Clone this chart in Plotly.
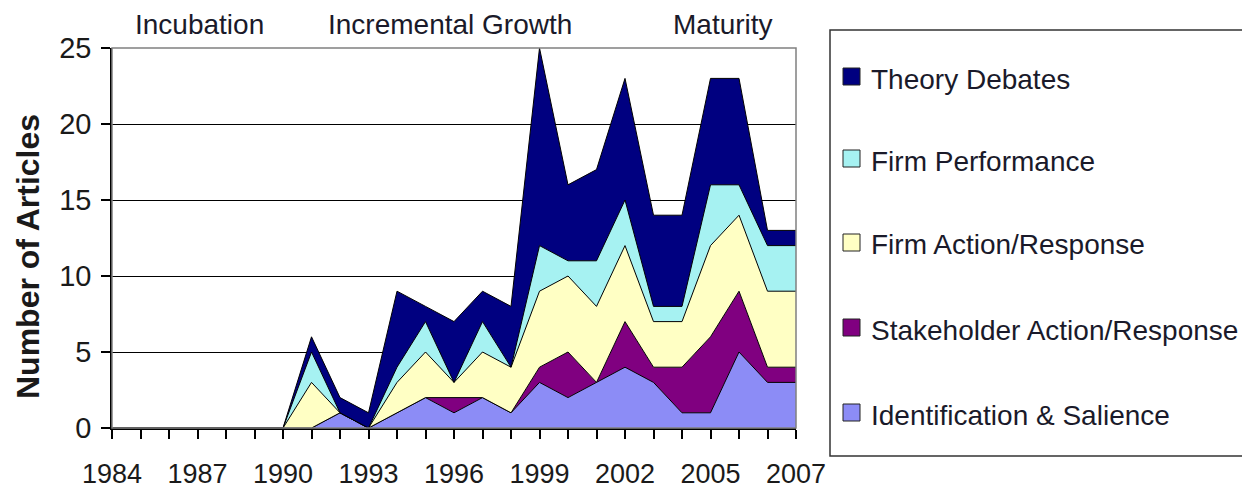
import plotly.graph_objects as go

years = list(range(1984, 2009))
tick_years = [1984, 1987, 1990, 1993, 1996, 1999, 2002, 2005, 2008]
tick_labels = ["1984", "1987", "1990", "1993", "1996", "1999", "2002", "2005", "2007"]

ident       = [0, 0, 0, 0, 0, 0, 0, 0, 1, 0, 1, 2, 1, 2, 1, 3, 2, 3, 4, 3, 1, 1, 5, 3, 3]
stakeholder = [0, 0, 0, 0, 0, 0, 0, 0, 0, 0, 0, 0, 1, 0, 0, 1, 3, 0, 3, 1, 3, 5, 4, 1, 1]
firm_action = [0, 0, 0, 0, 0, 0, 0, 3, 0, 0, 2, 3, 1, 3, 3, 5, 5, 5, 5, 3, 3, 6, 5, 5, 5]
firm_perf   = [0, 0, 0, 0, 0, 0, 0, 2, 0, 0, 1, 2, 0, 2, 0, 3, 1, 3, 3, 1, 1, 4, 2, 3, 3]
theory      = [0, 0, 0, 0, 0, 0, 0, 1, 1, 1, 5, 1, 4, 2, 4, 13, 5, 6, 8, 6, 6, 7, 7, 1, 1]

series_names = ["Identification & Salience", "Stakeholder Action/Response",
                "Firm Action/Response", "Firm Performance", "Theory Debates"]
series_values = [ident, stakeholder, firm_action, firm_perf, theory]
series_colors = ["#8C8CF6", "#800080", "#FFFFC4", "#A6F2F2", "#000080"]

phase_labels = ["Incubation", "Incremental Growth", "Maturity"]

FONT = "Liberation Sans, Arial, sans-serif"

fig = go.Figure()
for name, vals, col in zip(series_names, series_values, series_colors):
    fig.add_trace(go.Scatter(
        x=years, y=vals, name=name, mode="lines", stackgroup="one",
        fillcolor=col, line=dict(color="#000000", width=1),
        showlegend=False, hoverinfo="x+y+name"))

L, R, T, B = 112, 446, 48, 62
W, H = 1242, 490
pw = W - L - R
ph = H - T - B

def px(x):
    return (x - L) / pw

def py(y):
    return (H - B - y) / ph

shapes = [
    dict(type="rect", xref="paper", yref="paper", x0=0, x1=1, y0=0, y1=1,
         line=dict(color="#808080", width=1.5), layer="above"),
    dict(type="rect", xref="paper", yref="paper", x0=px(830), x1=px(1250),
         y0=py(456), y1=py(30), line=dict(color="#333333", width=1.5)),
]
annotations = []
legend_rows = [79, 161, 245, 330, 415]
for name, col, yc in zip(series_names[::-1], series_colors[::-1], legend_rows):
    shapes.append(dict(type="rect", xref="paper", yref="paper",
                       x0=px(843), x1=px(860), y0=py(yc + 6), y1=py(yc - 11),
                       fillcolor=col, line=dict(color="#222222", width=1)))
    annotations.append(dict(text=name, xref="paper", yref="paper",
                            x=px(869), y=py(yc), xanchor="left", yanchor="middle",
                            showarrow=False, font=dict(size=28, color="#1a1a2a", family=FONT)))

for label, xc in zip(phase_labels, [199, 450, 723]):
    annotations.append(dict(text=label, xref="paper", yref="paper",
                            x=px(xc), y=py(25), xanchor="center", yanchor="middle",
                            showarrow=False, font=dict(size=28, color="#1a1a2a", family=FONT)))

annotations.append(dict(text="<b>Number of Articles</b>", xref="paper", yref="paper",
                        x=px(28), y=py(257), xanchor="center", yanchor="middle",
                        textangle=-90, showarrow=False,
                        font=dict(size=32, color="#1a1a1a", family=FONT)))

fig.update_layout(
    width=W, height=H,
    margin=dict(l=L, r=R, t=T, b=B, pad=0, autoexpand=False),
    paper_bgcolor="white", plot_bgcolor="white",
    font=dict(family=FONT, color="#1a1a1a"),
    shapes=shapes, annotations=annotations,
    xaxis=dict(range=[1984, 2008], tickvals=tick_years, ticktext=tick_labels,
               ticks="outside", ticklen=9, tickcolor="black", tickwidth=1.5,
               showline=True, linecolor="black", linewidth=1.5, showgrid=False,
               zeroline=False, tickfont=dict(size=27, color="#1a1a1a"),
               ticklabelstandoff=12, automargin=False,
               minor=dict(ticks="outside", ticklen=9, tickcolor="black", tickwidth=1.5,
                          dtick=1, tick0=1984, showgrid=False)),
    yaxis=dict(range=[0, 25], tickvals=[0, 5, 10, 15, 20, 25],
               ticks="outside", ticklen=9, tickcolor="black", tickwidth=1.5,
               showline=True, linecolor="black", linewidth=1.5,
               showgrid=True, gridcolor="black", gridwidth=1.2, zeroline=False,
               tickfont=dict(size=29, color="#1a1a1a"), ticklabelstandoff=4,
               automargin=False),
)

fig.write_html("out.html")
